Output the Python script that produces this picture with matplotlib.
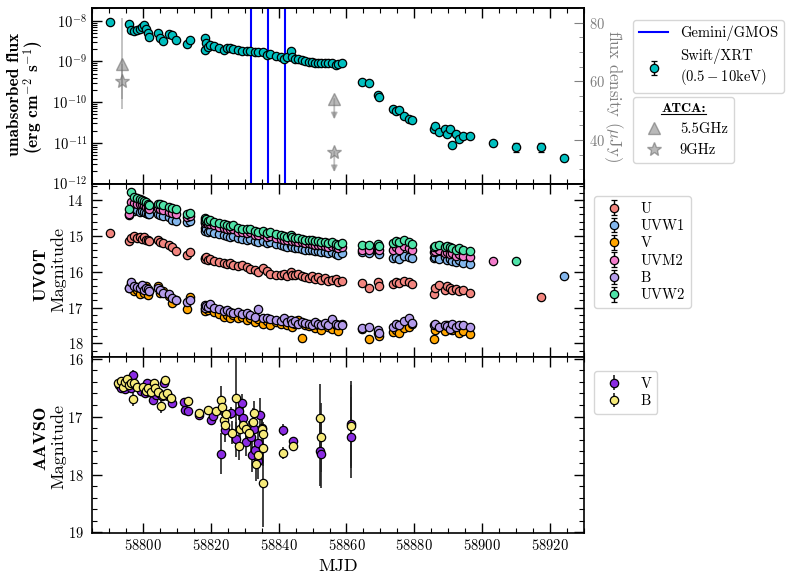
import numpy as np
import matplotlib
matplotlib.use("Agg")
import matplotlib.pyplot as plt
from matplotlib.ticker import MultipleLocator, LogLocator, NullFormatter
from matplotlib.lines import Line2D
from matplotlib.font_manager import FontProperties

nan = np.nan

# ---------------- Swift epochs / XRT ----------------
swift_mjd = [58790.4,
             58795.8, 58796.6, 58797.4, 58798.2, 58799.0, 58799.6, 58800.3, 58800.8, 58801.5, 58801.7,
             58804.5, 58805.0, 58806.0, 58807.6, 58808.6, 58809.9,
             58812.9, 58813.9,
             58818.3, 58818.2, 58818.6, 58819.1, 58819.8, 58821.0, 58822.5, 58824.0, 58824.7, 58825.7,
             58826.6, 58828.1, 58829.3, 58830.6, 58831.6, 58833.1, 58834.0, 58835.5, 58836.5, 58837.4,
             58839.3, 58840.8, 58841.6, 58842.6, 58843.6, 58844.0, 58844.8, 58845.7, 58846.9, 58847.7,
             58848.9, 58849.9, 58850.7, 58851.7, 58852.6, 58853.6, 58854.6, 58855.6, 58856.8, 58857.6,
             58858.6,
             58864.6, 58866.6, 58869.4, 58869.5,
             58873.8, 58874.6, 58875.6, 58877.0, 58878.3, 58879.3,
             58885.7, 58886.1, 58887.4, 58888.9, 58889.6, 58890.6, 58891.2, 58892.4, 58893.3, 58894.3, 58896.3,
             58903.1, 58910.1, 58917.2, 58924.1]

xrt_flux = [9.1e-9,
            8.5e-9, 6.0e-9, 5.6e-9, 5.9e-9, 6.3e-9, 7.2e-9, 7.8e-9, 6.3e-9, 5.0e-9, 3.9e-9,
            5.0e-9, 3.7e-9, 3.1e-9, 4.6e-9, 4.4e-9, 3.4e-9,
            2.7e-9, 3.3e-9,
            3.7e-9, 1.95e-9, 2.8e-9, 2.24e-9, 2.57e-9, 2.45e-9, 2.19e-9, 1.95e-9, 2.19e-9, 2.19e-9,
            2.04e-9, 1.95e-9, 1.82e-9, 1.82e-9, 1.78e-9, 1.70e-9, 1.70e-9, 1.70e-9, 1.45e-9, 1.51e-9,
            1.35e-9, 1.29e-9, 1.12e-9, 1.26e-9, 1.82e-9, 1.29e-9, 1.17e-9, 1.12e-9, 1.07e-9, 1.05e-9,
            9.5e-10, 9.5e-10, 9.3e-10, 8.9e-10, 8.9e-10, 8.9e-10, 8.9e-10, 8.9e-10, 8.3e-10, 8.7e-10,
            9.3e-10,
            3.2e-10, 2.9e-10, 1.48e-10, 1.35e-10,
            6.9e-11, 6.0e-11, 6.3e-11, 4.7e-11, 3.9e-11, 3.7e-11,
            2.24e-11, 2.57e-11, 1.86e-11, 2.14e-11, 1.70e-11, 2.19e-11, 9.1e-12, 1.62e-11, 1.26e-11, 1.45e-11, 1.45e-11,
            9.8e-12, 8.1e-12, 7.9e-12, 4.2e-12]

xrt_relerr = [0.03] * 60 + [0.05] * 10 + [0.10] * 11 + [0.12, 0.25, 0.25, 0.15]

# ---------------- UVOT magnitudes (same Swift epochs) ----------------
uvot_u = ([14.93] +
          [15.15, 15.05, 15.00, 15.05, 15.02, 15.08, 15.03, 15.10, 15.12, 15.15] +
          [15.12, 15.18, 15.20, 15.25, 15.30, 15.42] +
          [15.52, 15.45] +
          [15.62, 15.65, 15.60, 15.68, 15.65, 15.70, 15.72, 15.75, 15.78, 15.76, 15.80, 15.85, 15.82, 15.88,
           15.92, 15.95, 16.00, 15.90, 15.98, 16.05, 16.08, 16.10, 16.05, 16.12, 16.00, 16.08, 16.10, 16.05,
           16.12, 16.15, 16.18, 16.12, 16.20, 16.15, 16.22, 16.18, 16.25, 16.22, 16.20, 16.28, 16.25] +
          [16.32, 16.45, 16.30, 16.40] +
          [16.35, 16.28, 16.32, 16.25, 16.30, 16.35] +
          [16.62, 16.45, 16.38, 16.50, 16.40, 16.45, 16.52, 16.48, 16.55, 16.50, 16.58] +
          [nan, nan, 16.71, nan])

uvot_uvw1 = ([nan] +
             [14.42, 14.25, 14.30, 14.28, 14.32, 14.30, 14.33, 14.35, 14.38, 14.40] +
             [14.38, 14.42, 14.45, 14.48, 14.55, 14.58] +
             [14.62, 14.58] +
             [14.78, 14.85, 14.80, 14.88, 14.85, 14.92, 14.95, 14.98, 15.00, 15.02, 15.00, 15.06, 15.08, 15.10,
              15.08, 15.15, 15.16, 15.14, 15.20, 15.18, 15.22, 15.25, 15.28, 15.30, 15.26, 15.32, 15.33, 15.35,
              15.36, 15.38, 15.38, 15.40, 15.42, 15.43, 15.44, 15.46, 15.48, 15.46, 15.50, 15.52, 15.48] +
             [15.45, 15.48, 15.45, 15.50] +
             [15.62, 15.58, 15.65, 15.55, 15.60, 15.62] +
             [15.62, 15.58, 15.65, 15.60, 15.68, 15.65, 15.70, 15.72, 15.68, 15.75, 15.78] +
             [nan, nan, nan, 16.11])

uvot_v = ([nan] +
          [16.45, 16.35, 16.55, 16.50, 16.62, 16.48, 16.58, 16.40, 16.65, 16.55] +
          [16.40, 16.60, 16.55, 16.68, 16.88, 16.80] +
          [17.05, 16.70] +
          [17.05, 17.10, 16.98, 17.08, 17.02, 17.12, 17.18, 17.25, 17.20, 17.28, 17.22, 17.30, 17.25, 17.35,
           17.28, 17.40, 17.32, 17.45, 17.38, 17.48, 17.40, 17.45, 17.38, 17.50, 17.42, 17.55, 17.45, 17.35,
           17.85, 17.48, 17.52, 17.45, 17.58, 17.50, 17.62, 17.48, 17.55, 17.60, 17.50, 17.65, 17.45] +
          [17.60, 17.88, 17.72, 17.80] +
          [17.68, 17.62, 17.70, 17.58, 17.55, 17.45] +
          [17.88, 17.62, 17.55, 17.65, 17.48, 17.60, 17.62, 17.58, 17.70, 17.65, 17.75] +
          [nan, nan, nan, nan])

uvot_uvm2 = ([nan] +
             [14.38, 14.05, 14.08, 14.12, 14.10, 14.12, 14.15, 14.18, 14.22, 14.25] +
             [14.22, 14.25, 14.28, 14.32, 14.35, 14.38] +
             [14.48, 14.45] +
             [14.60, 14.65, 14.62, 14.68, 14.66, 14.70, 14.75, 14.78, 14.80, 14.82, 14.80, 14.88, 14.90, 14.92,
              14.90, 14.96, 14.98, 14.95, 15.02, 15.00, 15.05, 15.08, 15.10, 15.12, 15.08, 15.14, 15.15, 15.16,
              15.18, 15.20, 15.20, 15.22, 15.24, 15.25, 15.26, 15.28, 15.30, 15.28, 15.32, 15.35, 15.30] +
             [15.38, 15.40, 15.35, 15.40] +
             [15.38, 15.32, 15.40, 15.28, 15.35, 15.38] +
             [15.45, 15.42, 15.40, 15.48, 15.45, 15.50, 15.48, 15.55, 15.50, 15.55, 15.58] +
             [15.70, nan, nan, nan])

uvot_b = ([nan] +
          [16.45, 16.30, 16.40, 16.42, 16.45, 16.38, 16.50, 16.45, 16.48, 16.55] +
          [16.45, 16.50, 16.60, 16.62, 16.72, 16.78] +
          [16.85, 16.78] +
          [16.92, 17.00, 16.95, 16.98, 16.90, 17.02, 17.05, 17.10, 17.08, 17.12, 17.15, 17.12, 17.18, 17.15,
           17.22, 17.25, 17.05, 17.28, 17.30, 17.32, 17.35, 17.38, 17.30, 17.40, 17.35, 17.42, 17.38, 17.45,
           17.40, 17.42, 17.45, 17.48, 17.40, 17.45, 17.50, 17.42, 17.48, 17.32, 17.45, 17.50, 17.48] +
          [17.58, 17.55, 17.62, 17.70] +
          [17.55, 17.45, 17.50, 17.38, 17.30, 17.42] +
          [17.50, 17.45, 17.55, 17.48, 17.52, 17.60, 17.45, 17.55, 17.50, 17.48, 17.55] +
          [nan, nan, nan, nan])

uvot_uvw2 = ([nan] +
             [14.25, 13.78, 13.92, 13.95, 13.98, 14.00, 14.02, 14.05, 14.10, 14.15] +
             [14.12, 14.10, 14.15, 14.20, 14.22, 14.25] +
             [14.38, 14.35] +
             [14.50, 14.55, 14.52, 14.58, 14.55, 14.60, 14.65, 14.68, 14.70, 14.72, 14.70, 14.78, 14.80, 14.82,
              14.80, 14.86, 14.88, 14.85, 14.92, 14.90, 14.95, 14.98, 15.00, 15.02, 14.98, 15.04, 15.05, 15.06,
              15.08, 15.10, 15.10, 15.12, 15.14, 15.15, 15.16, 15.18, 15.20, 15.18, 15.22, 15.25, 15.20] +
             [15.25, 15.25, 15.22, 15.28] +
             [15.20, 15.15, 15.18, 15.12, 15.18, 15.22] +
             [15.32, 15.28, 15.25, 15.30, 15.28, 15.32, 15.35, 15.38, 15.35, 15.40, 15.42] +
             [nan, 15.70, nan, nan])

uvot_names = ["U", "UVW1", "V", "UVM2", "B", "UVW2"]
uvot_errs = [0.04, 0.04, 0.08, 0.04, 0.06, 0.04]

# ---------------- ATCA radio ----------------
radio_mjd = [58793.8, 58856.4]
radio_55 = [66.0, 54.0]
radio_55_err = [15.5, 0.0]
radio_9 = [60.0, 36.0]
radio_9_err = [6.0, 0.0]
radio_uplim = [False, True]
radio_ul_arrow = 7.0

gemini_mjd = [58832.0, 58837.0, 58842.0]

# ---------------- AAVSO ----------------
aavso_v_mjd = [58793.0, 58793.6, 58794.2, 58794.8, 58795.5, 58796.0, 58796.6, 58797.1, 58797.6, 58799.5,
               58800.5, 58801.2, 58801.8, 58802.5, 58803.0, 58803.8, 58804.6, 58805.5, 58806.3, 58806.8,
               58807.5, 58808.6,
               58812.2, 58812.4, 58813.2, 58816.4, 58820.0, 58820.6, 58823.1, 58824.3, 58826.1, 58827.4,
               58828.3, 58829.3, 58829.4, 58830.5, 58831.8, 58832.1, 58832.6, 58833.1, 58833.8, 58833.9,
               58834.6, 58835.1, 58841.3, 58844.2, 58852.3, 58852.4, 58861.2, 58861.3]
aavso_v_mag = [16.45, 16.50, 16.42, 16.52, 16.45, 16.38, 16.50, 16.28, 16.46, 16.55,
               16.60, 16.42, 16.58, 16.55, 16.72, 16.62, 16.60, 16.65, 16.42, 16.62,
               16.65, 16.77,
               16.75, 16.88, 16.90, 16.98, 17.06, 16.99, 17.64, 17.23, 16.94, 17.39,
               16.90, 16.76, 17.03, 17.43, 17.36, 17.66, 17.22, 17.58, 17.77, 17.45,
               16.98, 17.20, 17.23, 17.42, 17.60, 17.64, 17.13, 17.36]
aavso_v_err = [0.05, 0.05, 0.05, 0.05, 0.05, 0.05, 0.05, 0.08, 0.05, 0.05,
               0.05, 0.05, 0.05, 0.05, 0.08, 0.05, 0.05, 0.05, 0.05, 0.05,
               0.05, 0.05,
               0.05, 0.05, 0.05, 0.05, 0.05, 0.05, 0.35, 0.20, 0.10, 0.30,
               0.15, 0.15, 0.20, 0.25, 0.30, 0.30, 0.20, 0.25, 0.30, 0.25,
               0.30, 0.15, 0.10, 0.05, 0.60, 0.60, 0.75, 0.70]

aavso_b_mjd = [58792.8, 58793.4, 58794.0, 58794.6, 58795.2, 58795.8, 58796.4, 58797.0, 58797.4, 58798.2,
               58800.0, 58800.8, 58801.6, 58802.4, 58803.2, 58803.6, 58804.4, 58805.2, 58805.8, 58806.4,
               58807.0, 58808.4,
               58813.2, 58816.4, 58819.2, 58821.4, 58823.1, 58823.2, 58823.8, 58824.3, 58824.4, 58826.2,
               58827.3, 58828.3, 58828.5, 58829.5, 58830.5, 58831.2, 58832.4, 58832.8, 58833.2, 58834.0,
               58835.2, 58835.4, 58835.3, 58835.5, 58841.3, 58844.2, 58852.3, 58852.4, 58861.2]
aavso_b_mag = [16.42, 16.38, 16.48, 16.40, 16.35, 16.45, 16.42, 16.70, 16.42, 16.48,
               16.48, 16.55, 16.50, 16.58, 16.42, 16.50, 16.58, 16.82, 16.62, 16.36,
               16.60, 16.68,
               16.73, 16.94, 16.88, 16.90, 16.72, 16.84, 17.06, 17.14, 16.95, 17.28,
               16.68, 17.50, 17.22, 17.14, 17.22, 17.28, 17.10, 16.93, 17.82, 17.66,
               17.22, 17.30, 17.55, 18.15, 17.63, 17.50, 17.03, 17.36, 17.16]
aavso_b_err = [0.05, 0.05, 0.05, 0.05, 0.05, 0.05, 0.05, 0.12, 0.05, 0.05,
               0.05, 0.05, 0.05, 0.05, 0.05, 0.05, 0.05, 0.12, 0.05, 0.05,
               0.05, 0.05,
               0.05, 0.05, 0.05, 0.05, 0.25, 0.15, 0.20, 0.20, 0.10, 0.20,
               0.80, 0.25, 0.20, 0.15, 0.20, 0.20, 0.25, 0.20, 0.30, 0.20,
               0.20, 0.20, 0.30, 0.75, 0.10, 0.05, 0.60, 0.60, 0.70]

# ---------------- style ----------------
plt.rcParams.update({
    "font.family": "cmr10",
    "mathtext.fontset": "cm",
    "axes.formatter.use_mathtext": True,
    "axes.unicode_minus": True,
    "xtick.direction": "in",
    "ytick.direction": "in",
    "axes.linewidth": 1.2,
})

fig = plt.figure(figsize=(7.89, 5.81), dpi=100)
L, W = 92 / 789, 492 / 789
ax0 = fig.add_axes([L, 1 - 184 / 581, W, 176 / 581])
ax1 = fig.add_axes([L, 1 - 357 / 581, W, 173 / 581], sharex=ax0)
ax2 = fig.add_axes([L, 1 - 533 / 581, W, 176 / 581], sharex=ax0)

for ax in (ax0, ax1, ax2):
    ax.tick_params(which="major", length=7, width=1.0, top=True, right=True, labelsize=10.5)
    ax.tick_params(which="minor", length=3.5, width=0.8, top=True, right=True)
    ax.xaxis.set_major_locator(MultipleLocator(20))
    ax.xaxis.set_minor_locator(MultipleLocator(5))
ax0.tick_params(axis="y", which="both", right=False)
ax0.tick_params(axis="x", labelbottom=False)
ax1.tick_params(axis="x", labelbottom=False)
ax1.tick_params(axis="y", which="major", pad=6)
ax2.tick_params(axis="y", which="major", pad=6)

mk = dict(fmt="o", mec="k", ecolor="k", mew=0.9, elinewidth=1.0, capsize=2)
mk_aavso = dict(fmt="o", mec="k", ecolor="#222222", mew=0.9, elinewidth=1.2, capsize=0)

bold = dict(family="cmb10", rotation=90, ha="center", va="center")
reg = dict(family="cmr10", rotation=90, ha="center", va="center")

# ---- top panel ----
ax0.set_yscale("log")
gem = None
for m in gemini_mjd:
    gem = ax0.axvline(m, color="blue", lw=1.5, zorder=1)
xf = np.array(xrt_flux)
xe = xf * np.array(xrt_relerr)
xrt = ax0.errorbar(swift_mjd, xf, yerr=xe, mfc="c", ms=6, zorder=3, **mk)
ax0.set_ylim(9.8e-13, 2.05e-8)
ax0.yaxis.set_major_locator(LogLocator(base=10, numticks=10))
ax0.yaxis.set_minor_locator(LogLocator(base=10, subs=np.arange(2, 10), numticks=50))
ax0.yaxis.set_minor_formatter(NullFormatter())
ax0.text(-0.1585, 0.508, "unabsorbed flux", transform=ax0.transAxes, fontsize=12.5, **bold)
ax0.text(-0.119, 0.494, r"(erg cm$^{\mathbf{-2}}$ s$^{\mathbf{-1}}$)", transform=ax0.transAxes,
         fontsize=12.5, **bold)

ax0t = ax0.twinx()
ax0t.set_ylim(25, 85)
ax0t.yaxis.set_major_locator(MultipleLocator(20))
ax0t.yaxis.set_minor_locator(MultipleLocator(5))
ax0t.tick_params(axis="y", which="major", length=7, colors="grey", labelsize=10.5, direction="in")
ax0t.tick_params(axis="y", which="minor", length=3.5, colors="grey", direction="in")
ax0t.set_ylabel(r"flux density ($\mu$Jy)", color="grey", fontsize=12, rotation=270, labelpad=14)

rm = np.array(radio_mjd)
r55 = np.array(radio_55)
r9 = np.array(radio_9)
ul = np.array(radio_uplim)
det = ~ul
ax0t.errorbar(rm[det], r55[det], yerr=np.array(radio_55_err)[det], fmt="^", ms=8, color="grey",
              alpha=0.55, mec="dimgrey", ecolor="grey", elinewidth=1.2, zorder=4)
ax0t.errorbar(rm[det], r9[det], yerr=np.array(radio_9_err)[det], fmt="*", ms=10, color="grey",
              alpha=0.55, mec="dimgrey", ecolor="grey", elinewidth=1.2, zorder=4)
for yvals in (r55, r9):
    for x, y in zip(rm[ul], yvals[ul]):
        ax0t.annotate("", xy=(x, y - radio_ul_arrow), xytext=(x, y),
                      arrowprops=dict(arrowstyle="-|>", color="grey", alpha=0.5, lw=1.3,
                                      mutation_scale=9, shrinkA=0, shrinkB=0))
ax0t.plot(rm[ul], r55[ul], marker="^", ms=8, color="grey", alpha=0.55, mec="dimgrey", ls="none", zorder=4)
ax0t.plot(rm[ul], r9[ul], marker="*", ms=10, color="grey", alpha=0.55, mec="dimgrey", ls="none", zorder=4)

leg1 = ax0t.legend([gem, xrt], ["Gemini/GMOS", "Swift/XRT\n" + r"$(0.5-10\mathrm{keV})$"],
                   loc="upper left", bbox_to_anchor=(1.10, 0.932), borderaxespad=0,
                   fontsize=10.5, handlelength=2.0)
ax0t.add_artist(leg1)
h55 = Line2D([], [], marker="^", ms=8, color="grey", alpha=0.55, mec="dimgrey", ls="none")
h9 = Line2D([], [], marker="*", ms=10, color="grey", alpha=0.55, mec="dimgrey", ls="none")
leg2 = ax0t.legend([h55, h9], ["5.5GHz", "9GHz"], loc="upper left",
                   bbox_to_anchor=(1.10, 0.494), borderaxespad=0, fontsize=10.5,
                   title="ATCA:", title_fontproperties=FontProperties(family="cmb10", size=10))

# ---- middle panel ----
uvot_colors = ["#F2857F", "#83B6EC", "#FFA500", "#F27CCB", "#B39BEA", "#4FE3A8"]
uvot_sets = [uvot_u, uvot_uvw1, uvot_v, uvot_uvm2, uvot_b, uvot_uvw2]
sm = np.array(swift_mjd)
for name, col, vals, err in zip(uvot_names, uvot_colors, uvot_sets, uvot_errs):
    v = np.array(vals)
    ok = ~np.isnan(v)
    ax1.errorbar(sm[ok], v[ok], yerr=err, mfc=col, ms=6, label=name, zorder=3, **mk)
ax1.set_ylim(18.38, 13.55)
ax1.yaxis.set_major_locator(MultipleLocator(1))
ax1.yaxis.set_minor_locator(MultipleLocator(0.2))
ax1.text(-0.103, 0.48, "UVOT", transform=ax1.transAxes, fontsize=13, **bold)
ax1.text(-0.069, 0.503, "Magnitude", transform=ax1.transAxes, fontsize=13, **reg)
ax1.legend(loc="upper left", bbox_to_anchor=(1.0203, 0.93), borderaxespad=0, fontsize=10.5,
           labelspacing=0.25)

# ---- bottom panel ----
ax2.errorbar(aavso_v_mjd, aavso_v_mag, yerr=aavso_v_err, mfc="#8A2BE2", ms=6, label="V", zorder=3, **mk_aavso)
ax2.errorbar(aavso_b_mjd, aavso_b_mag, yerr=aavso_b_err, mfc="#F6EA7A", ms=6, label="B", zorder=3, **mk_aavso)
ax2.set_ylim(19.01, 15.97)
ax2.yaxis.set_major_locator(MultipleLocator(1))
ax2.yaxis.set_minor_locator(MultipleLocator(0.2))
ax2.text(-0.103, 0.54, "AAVSO", transform=ax2.transAxes, fontsize=13, **bold)
ax2.text(-0.069, 0.49, "Magnitude", transform=ax2.transAxes, fontsize=13, **reg)
ax2.legend(loc="upper left", bbox_to_anchor=(1.0203, 0.92), borderaxespad=0, fontsize=10.5,
           labelspacing=0.25)
ax2.set_xlabel("MJD", fontsize=13)
ax2.set_xlim(58785, 58930)

# underline the ATCA legend title
fig.canvas.draw()
r = fig.canvas.get_renderer()
bb = leg2.get_title().get_window_extent(r)
inv = fig.transFigure.inverted()
(x0, y0) = inv.transform((bb.x0, bb.y0 + 1))
(x1, _) = inv.transform((bb.x1, bb.y0 + 1))
fig.add_artist(Line2D([x0, x1], [y0, y0], transform=fig.transFigure, color="k", lw=0.8))

fig.savefig("out.png", dpi=100)
